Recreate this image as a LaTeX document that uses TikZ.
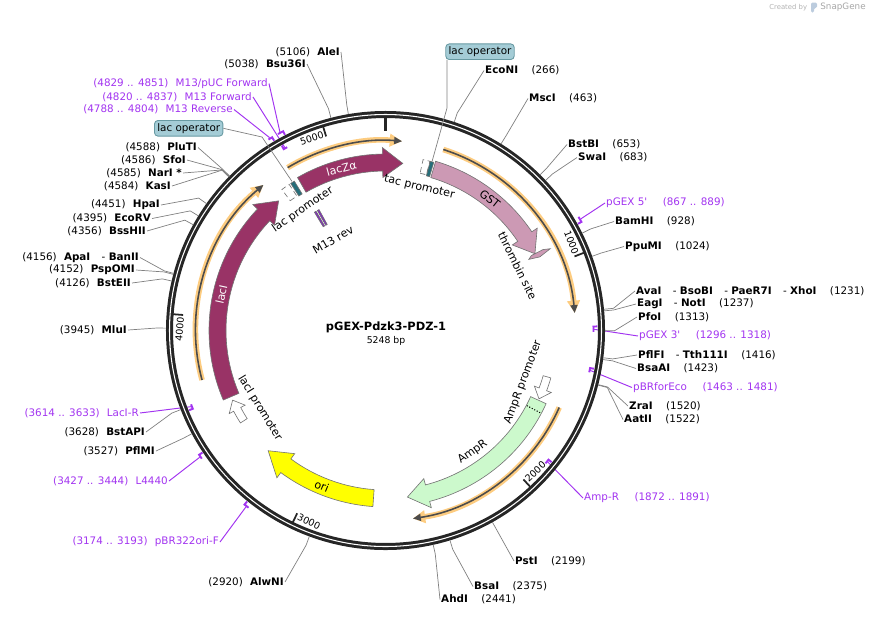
\documentclass[tikz,border=0pt]{standalone}
\usepackage{fontspec}
\setmainfont{DejaVu Sans}
\usetikzlibrary{arrows.meta}
\definecolor{lacmaroon}{RGB}{153,51,102}
\definecolor{gstpink}{RGB}{204,153,180}
\definecolor{ampgreen}{RGB}{204,249,204}
\definecolor{oriyellow}{RGB}{255,255,0}
\definecolor{opteal}{RGB}{38,110,122}
\definecolor{opfill}{RGB}{164,204,214}
\definecolor{orfglow}{RGB}{253,204,128}
\definecolor{primerpurple}{RGB}{162,52,240}
\definecolor{cutgray}{RGB}{128,128,128}
\definecolor{logoblue}{RGB}{188,204,222}
\begin{document}
\begin{tikzpicture}[x=0.02cm,y=-0.02cm,
  font=\fontsize{5.9}{7}\selectfont,
  site/.style={inner sep=0.5pt},
  primlab/.style={inner sep=0.5pt,text=primerpurple},
  cut/.style={draw=cutgray,line width=0.4pt},
  primline/.style={draw=primerpurple,line width=0.55pt},
  primmark/.style={draw=primerpurple,line width=1.1pt},
  feat/.style={draw=black!55,line width=0.35pt},
  featlab/.style={inner sep=0pt,font=\fontsize{6.3}{7}\selectfont},
  ticklab/.style={inner sep=1pt,font=\fontsize{5.4}{6}\selectfont},
  orfhalo/.style={draw=orfglow,line width=3.2pt,-{Triangle[length=7pt,width=7pt]}},
  orfcore/.style={draw=black!70,line width=0.9pt,-{Triangle[length=4.5pt,width=4pt]}},
  opbox/.style={draw=opteal!70,fill=opfill,rounded corners=2pt,inner sep=1.6pt,line width=0.5pt},
]
\useasboundingbox (0,0) rectangle (895,616);

% credit
\node[anchor=west,inner sep=0pt,text=black!30,font=\fontsize{3.9}{4}\selectfont] (credit) at (769,7.5) {Created by};
\fill[logoblue,rounded corners=0.8pt] (811,2.5) -- (817,2.5) -- (817,8) -- (814,8) -- (814,12.5) -- (811,12.5) -- cycle;
\node[anchor=west,inner sep=0pt,text=black!35,font=\fontsize{5}{5}\selectfont] (sgname) at (820,7.5) {SnapGene};

% name
\node[font=\fontsize{6.5}{8}\selectfont\bfseries] (title) at (386,327) {pGEX-Pdzk3-PDZ-1};
\node[font=\fontsize{5.3}{6}\selectfont] (size) at (386,341) {5248 bp};

% sites, right
\node[site,anchor=west] (EcoNI) at (484,70.5) {\textbf{EcoNI}\hspace{1.3em}(266)};
\node[site,anchor=west] (MscI) at (528,98.5) {\textbf{MscI}\hspace{1.3em}(463)};
\node[site,anchor=west] (BstBI) at (567,144.5) {\textbf{BstBI}\hspace{1.3em}(653)};
\node[site,anchor=west] (SwaI) at (577,157.5) {\textbf{SwaI}\hspace{1.3em}(683)};
\node[site,anchor=west] (BamHI) at (614,221.5) {\textbf{BamHI}\hspace{1.3em}(928)};
\node[site,anchor=west] (PpuMI) at (624,246.5) {\textbf{PpuMI}\hspace{1.3em}(1024)};
\node[site,anchor=west] (AvaI) at (635,291) {\textbf{AvaI}\hspace{1.1em}- \textbf{BsoBI}\hspace{1.1em}- \textbf{PaeR7I}\hspace{1.1em}- \textbf{XhoI}\hspace{1.3em}(1231)};
\node[site,anchor=west] (EagI) at (636,304) {\textbf{EagI}\hspace{1.1em}- \textbf{NotI}\hspace{1.3em}(1237)};
\node[site,anchor=west] (PfoI) at (637,317) {\textbf{PfoI}\hspace{1.3em}(1313)};
\node[site,anchor=west] (PflFI) at (637,355) {\textbf{PflFI}\hspace{1.1em}- \textbf{Tth111I}\hspace{1.3em}(1416)};
\node[site,anchor=west] (BsaAI) at (636,368.5) {\textbf{BsaAI}\hspace{1.3em}(1423)};
\node[site,anchor=west] (ZraI) at (628,406) {\textbf{ZraI}\hspace{1.3em}(1520)};
\node[site,anchor=west] (AatII) at (623,419.5) {\textbf{AatII}\hspace{1.3em}(1522)};
\node[site,anchor=west] (PstI) at (514,561) {\textbf{PstI}\hspace{1.3em}(2199)};
\node[site,anchor=west] (BsaI) at (473,586.5) {\textbf{BsaI}\hspace{1.3em}(2375)};
\node[site,anchor=west] (AhdI) at (440,599.5) {\textbf{AhdI}\hspace{1.3em}(2441)};

% sites, left
\node[site,anchor=east] (AlwNI) at (285,582) {(2920)\hspace{0.7em}\textbf{AlwNI}};
\node[site,anchor=east] (PflMI) at (156,451) {(3527)\hspace{0.7em}\textbf{PflMI}};
\node[site,anchor=east] (BstAPI) at (146,432) {(3628)\hspace{0.7em}\textbf{BstAPI}};
\node[site,anchor=east] (MluI) at (128,330) {(3945)\hspace{0.7em}\textbf{MluI}};
\node[site,anchor=east] (BstEII) at (132,283) {(4126)\hspace{0.7em}\textbf{BstEII}};
\node[site,anchor=east] (PspOMI) at (136,270) {(4152)\hspace{0.7em}\textbf{PspOMI}};
\node[site,anchor=east] (ApaI) at (140,257.5) {(4156)\hspace{0.7em}\textbf{ApaI}\hspace{1.1em}- \textbf{BanII}};
\node[site,anchor=east] (BssHII) at (147,231) {(4356)\hspace{0.7em}\textbf{BssHII}};
\node[site,anchor=east] (EcoRV) at (152,218.5) {(4395)\hspace{0.7em}\textbf{EcoRV}};
\node[site,anchor=east] (HpaI) at (161,205) {(4451)\hspace{0.7em}\textbf{HpaI}};
\node[site,anchor=east] (KasI) at (172,186) {(4584)\hspace{0.7em}\textbf{KasI}};
\node[site,anchor=east] (NarI) at (183,173) {(4585)\hspace{0.7em}\textbf{NarI *}};
\node[site,anchor=east] (SfoI) at (187,160) {(4586)\hspace{0.7em}\textbf{SfoI}};
\node[site,anchor=east] (PluTI) at (198,147.5) {(4588)\hspace{0.7em}\textbf{PluTI}};
\node[site,anchor=east] (Bsu36I) at (307,64) {(5038)\hspace{0.7em}\textbf{Bsu36I}};
\node[site,anchor=east] (AleI) at (341,52) {(5106)\hspace{0.7em}\textbf{AleI}};

% primers
\node[primlab,anchor=west] (pGEXfive) at (605,203) {pGEX 5\textquotesingle\hspace{1.5em}(867 .. 889)};
\node[primlab,anchor=west] (pGEXthree) at (638,336) {pGEX 3\textquotesingle\hspace{1.5em}(1296 .. 1318)};
\node[primlab,anchor=west] (pBRfor) at (632,387.5) {pBRforEco\hspace{1.5em}(1463 .. 1481)};
\node[primlab,anchor=west] (AmpRr) at (583,498) {Amp-R\hspace{1.5em}(1872 .. 1891)};
\node[primlab,anchor=east] (oriF) at (220,542) {(3174 .. 3193)\hspace{0.7em}pBR322ori-F};
\node[primlab,anchor=east] (Lfour) at (169,481) {(3427 .. 3444)\hspace{0.7em}L4440};
\node[primlab,anchor=east] (LacIR) at (140,413) {(3614 .. 3633)\hspace{0.7em}LacI-R};
\node[primlab,anchor=east] (Mrev) at (234,109.5) {(4788 .. 4804)\hspace{0.7em}M13 Reverse};
\node[primlab,anchor=east] (Mfwd) at (253,97) {(4820 .. 4837)\hspace{0.7em}M13 Forward};
\node[primlab,anchor=east] (Mpuc) at (269,83.5) {(4829 .. 4851)\hspace{0.7em}M13/pUC Forward};

% operator tags
\node[opbox] (opTop) at (480,51.7) {lac operator};
\node[opbox] (opLeft) at (188.7,128.3) {lac operator};

\begin{scope}[shift={(385.5,330.5)}]
% open reading frames
\draw[orfhalo] (-121:190) arc[start angle=-121,end angle=-85,radius=190];
\draw[orfcore] (-121:190) arc[start angle=-121,end angle=-85,radius=190];
\draw[orfhalo] (-72.3:190) arc[start angle=-72.3,end angle=-5.3,radius=190];
\draw[orfcore] (-72.3:190) arc[start angle=-72.3,end angle=-5.3,radius=190];
\draw[orfhalo] (23.9:190) arc[start angle=23.9,end angle=81.7,radius=190];
\draw[orfcore] (23.9:190) arc[start angle=23.9,end angle=81.7,radius=190];
\draw[orfhalo] (164.9:190) arc[start angle=164.9,end angle=230,radius=190];
\draw[orfcore] (164.9:190) arc[start angle=164.9,end angle=230,radius=190];

% features
\draw[feat,fill=lacmaroon] (-119.9:159.5) arc[start angle=-119.9,end angle=-91,radius=159.5] -- (-91:153) -- (-84.1:168) -- (-91:183) -- (-91:176.5) arc[start angle=-91,end angle=-119.9,radius=176.5] -- cycle;
\draw[feat,fill=gstpink] (-73.5:159.5) arc[start angle=-73.5,end angle=-34,radius=159.5] -- (-34:153) -- (-27.2:168) -- (-34:183) -- (-34:176.5) arc[start angle=-34,end angle=-73.5,radius=176.5] -- cycle;
\draw[feat,fill=ampgreen] (24.5:159.5) arc[start angle=24.5,end angle=75.5,radius=159.5] -- (75.5:153) -- (82.5:168) -- (75.5:183) -- (75.5:176.5) arc[start angle=75.5,end angle=24.5,radius=176.5] -- cycle;
\draw[densely dotted,line width=0.6pt] (28:160) -- (28:176);
\draw[feat,fill=oriyellow] (94.1:159.5) arc[start angle=94.1,end angle=126.4,radius=159.5] -- (126.4:153) -- (134.3:168) -- (126.4:183) -- (126.4:176.5) arc[start angle=126.4,end angle=94.1,radius=176.5] -- cycle;
\draw[feat,fill=lacmaroon] (156.8:159.5) arc[start angle=156.8,end angle=223.5,radius=159.5] -- (223.5:153) -- (230.5:168) -- (223.5:183) -- (223.5:176.5) arc[start angle=223.5,end angle=156.8,radius=176.5] -- cycle;
% thrombin site
\draw[feat,fill=gstpink] (-27.2:164) -- (-27.2:177) -- (-26.4:184) -- (-25.5:171) -- (-26.4:160) -- cycle;
% promoters
\draw[feat,fill=white] (16:164) arc[start angle=16,end angle=20.5,radius=164] -- (20.5:159) -- (24:168) -- (20.5:177) -- (20.5:172) arc[start angle=20.5,end angle=16,radius=172] -- cycle;
\draw[feat,fill=white] (147.5:164) arc[start angle=147.5,end angle=152,radius=164] -- (152:159) -- (155.5:168) -- (152:177) -- (152:172) arc[start angle=152,end angle=147.5,radius=172] -- cycle;
\draw[feat,fill=white,densely dashed] (-77.6:161) arc[start angle=-77.6,end angle=-75.3,radius=161] -- (-75.3:175) arc[start angle=-75.3,end angle=-77.6,radius=175] -- cycle;
\draw[feat,fill=opteal] (-75.2:160) arc[start angle=-75.2,end angle=-74,radius=160] -- (-74:175) arc[start angle=-74,end angle=-75.2,radius=175] -- cycle;
\draw[feat,fill=white,densely dashed] (-126.3:161) arc[start angle=-126.3,end angle=-123.4,radius=161] -- (-123.4:175) arc[start angle=-123.4,end angle=-126.3,radius=175] -- cycle;
\draw[feat,fill=opteal] (-122.8:160) arc[start angle=-122.8,end angle=-121.4,radius=160] -- (-121.4:175) arc[start angle=-121.4,end angle=-122.8,radius=175] -- cycle;
% M13 rev
\draw[feat,fill=primerpurple!80!black] (-121:121) -- (-121:138) -- (-120.2:138) -- (-120.2:121) -- cycle;
\draw[feat,fill=primerpurple!80!black] (-119.6:121) -- (-119.6:138) -- (-118.8:138) -- (-118.8:121) -- cycle;

% feature labels
\node[featlab,text=white,rotate=15.2] (lzlab) at (-105.2:168) {lacZα};
\node[featlab,text=white,rotate=77.7] (lilab) at (192.3:168) {lacI};
\node[featlab,rotate=-38.4] (gstlab) at (-51.6:168) {GST};
\node[featlab,rotate=-22.3] (orilab) at (112.3:168) {ori};
\node[featlab,rotate=-13.3] (taclab) at (-76.7:147) {tac promoter};
\node[featlab,rotate=34.1] (laclab) at (-124.4:146.5) {lac promoter};
\node[featlab,rotate=-63.9] (thrlab) at (-26.1:147) {thrombin site};
\node[featlab,rotate=69.4] (amplab) at (20.6:147) {AmpR promoter};
\node[featlab,rotate=35.7] (amprlab) at (54.3:149.5) {AmpR};
\node[featlab,rotate=-58.3] (lacilab) at (148.3:147.5) {lacI promoter};
\node[featlab,rotate=30.1] (mrevlab) at (-120.1:104.6) {M13 rev};

% cut site points
\foreach \n/\a in {EcoNI/-71.75, MscI/-58.24, BstBI/-45.21, SwaI/-43.15, BamHI/-26.34, PpuMI/-19.76, AvaI/-5.56, EagI/-5.14, PfoI/0.07, PflFI/7.13, BsaAI/7.61, ZraI/14.27, AatII/14.41, PstI/60.85, BsaI/72.92, AhdI/77.45, AlwNI/110.30, PflMI/151.94, BstAPI/158.87, MluI/180.62, BstEII/193.03, PspOMI/194.82, ApaI/195.09, BssHII/208.81, EcoRV/211.49, HpaI/215.33, KasI/224.45, NarI/224.52, SfoI/224.59, PluTI/224.73, Bsu36I/255.59, AleI/260.26}
  {\coordinate (c\n) at (\a:219.5); \coordinate (k\n) at (\a:229);}
% primer points
\coordinate (mfive) at (-29.75:225);
\coordinate (mthree) at (-0.35:208);
\coordinate (mbr) at (11:208);
\coordinate (mamp) at (39:208);
\coordinate (mori) at (128.35:225);
\coordinate (mlf) at (145.7:225);
\coordinate (mlr) at (158.55:208);
\coordinate (mrev) at (239:225);
\coordinate (mfwd) at (241.2:208);
\coordinate (mpuc) at (242:225);
\coordinate (tacop) at (-74.6:176);
\coordinate (lacop) at (-122.1:176);

% primer connectors
\draw[primline] (mfive) -- (pGEXfive.west);
\draw[primline] (mthree) -- (pGEXthree.west);
\draw[primline] (mbr) -- (pBRfor.west);
\draw[primline] (mamp) -- (AmpRr.west);
\draw[primline] (mori) -- (oriF.east);
\draw[primline] (mlf) -- (Lfour.east);
\draw[primline] (mlr) -- (LacIR.east);
\draw[primline] (mrev) -- (Mrev.east);
\draw[primline] (mfwd) -- (Mfwd.east);
\draw[primline] (mpuc) -- (Mpuc.east);

% backbone
\draw[black!85,line width=4pt] (0,0) circle[radius=216];
\draw[white,line width=0.6pt] (0,0) circle[radius=216];

% ticks
\draw[black!85,line width=1.6pt] (-90:213) -- (-90:200);
\foreach \a in {-21.40,47.20,115.79,184.39,252.99}
  \draw[black!85,line width=1pt] (\a:213) -- (\a:203);
\node[ticklab,rotate=-68.6,anchor=north east] (tone) at (-21.40:211) {1000};
\node[ticklab,rotate=42.8,anchor=south west] (ttwo) at (47.20:211) {2000};
\node[ticklab,rotate=-25.79,anchor=south west] (tthree) at (115.79:211) {3000};
\node[ticklab,rotate=85.61,anchor=north east] (tfour) at (184.39:211) {4000};
\node[ticklab,rotate=17.01,anchor=north east] (tfive) at (252.99:211) {5000};

% primer marks
\draw[primmark] (-30.5:224) arc[start angle=-30.5,end angle=-29,radius=224] -- (-29:220);
\draw[primmark] (0.4:208) arc[start angle=0.4,end angle=-1.1,radius=208] -- (-1.1:212);
\draw[primmark] (11.6:208) arc[start angle=11.6,end angle=10.4,radius=208] -- (10.4:212);
\draw[primmark] (39.7:208) arc[start angle=39.7,end angle=38.4,radius=208] -- (38.4:212);
\draw[primmark] (127.7:224) arc[start angle=127.7,end angle=129,radius=224] -- (129:220);
\draw[primmark] (145.1:224) arc[start angle=145.1,end angle=146.3,radius=224] -- (146.3:220);
\draw[primmark] (159.2:208) arc[start angle=159.2,end angle=157.9,radius=208] -- (157.9:212);
\draw[primmark] (238.5:224) arc[start angle=238.5,end angle=239.6,radius=224] -- (239.6:220);
\draw[primmark] (241.8:208) arc[start angle=241.8,end angle=240.7,radius=208] -- (240.7:212);
\draw[primmark] (241.3:224) arc[start angle=241.3,end angle=242.8,radius=224] -- (242.8:220);
\end{scope}

% operator connectors
\coordinate (kopTop) at (447,108);
\coordinate (kopLeft) at (262,137);
\draw[cut] (tacop) -- (kopTop) -- (kopTop |- opTop.south);
\draw[cut] (lacop) -- (kopLeft) -- (opLeft.east);

% cut site connectors
\foreach \n in {EcoNI,MscI,BstBI,SwaI,BamHI,PpuMI,AvaI,EagI,PfoI,PflFI,BsaAI,ZraI,AatII,PstI,BsaI,AhdI}
  \draw[cut] (c\n) -- (k\n) -- (\n.west);
\foreach \n in {AlwNI,PflMI,BstAPI,MluI,BstEII,PspOMI,ApaI,BssHII,EcoRV,HpaI,KasI,NarI,SfoI,PluTI,Bsu36I,AleI}
  \draw[cut] (c\n) -- (k\n) -- (\n.east);
\end{tikzpicture}
\end{document}
